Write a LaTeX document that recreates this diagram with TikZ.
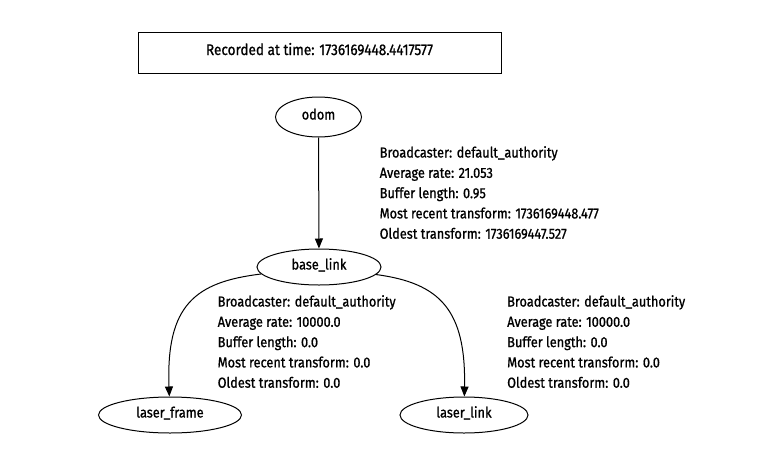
\documentclass[tikz,border=0pt]{standalone}
\usepackage{fontspec}
\setmainfont{Fira Sans}[FakeStretch=0.88, UprightFeatures={FakeBold=0.9}]
\usetikzlibrary{arrows.meta,shapes.geometric}
\begin{document}
\begin{tikzpicture}[x=1pt,y=-1pt]
\fontsize{10}{12}\selectfont
\pgfmathsetmacro\fsT{10*227/width("Recorded at time: 1736169448.4417577")}
\pgfmathsetmacro\fs{10*178/width("Broadcaster: default\_authority")}
\tikzset{
  every node/.style={font=\fontsize{\fs}{\fs}\selectfont},
  frame/.style={draw, ellipse, line width=1pt, inner sep=0pt, minimum height=36pt,
                text height=0.7em, text depth=0.2em},
  lbl/.style={anchor=base west, inner sep=0pt},
  edge/.style={line width=1pt, -{Triangle[length=10pt,width=8pt]}},
}
\fill[white] (0,0) rectangle (760,455);
\useasboundingbox (0,0) rectangle (760,455);

\node[draw, line width=1pt, minimum width=363pt, minimum height=41pt, inner sep=0pt,
      text height=0.7em, text depth=0.2em, font=\fontsize{\fsT}{\fsT}\selectfont]
      (title) at (319.5,52.5) {Recorded at time: 1736169448.4417577};

\node[frame, minimum width=86pt, minimum height=40pt] (odom) at (318.5,117) {odom};
\node[frame, minimum width=124pt] (bl) at (319,267) {base\_link};
\node[frame, minimum width=143pt] (lf) at (170,415) {laser\_frame};
\node[frame, minimum width=128pt] (ll) at (464,415) {laser\_link};

\draw[edge] (odom) -- (bl);
\draw[edge] (bl) .. controls (195,282) and (166,305) .. (lf);
\draw[edge] (bl) .. controls (440,283) and (466,310) .. (ll);

\node[lbl] (a1) at (379.5,157.5) {Broadcaster: default\_authority};
\node[lbl] (a2) at (379.5,177.8) {Average rate: 21.053};
\node[lbl] (a3) at (379.5,198.1) {Buffer length: 0.95};
\node[lbl] (a4) at (379.5,218.4) {Most recent transform: 1736169448.477};
\node[lbl] (a5) at (379.5,238.7) {Oldest transform: 1736169447.527};

\node[lbl] (b1) at (217.5,306.5) {Broadcaster: default\_authority};
\node[lbl] (b2) at (217.5,326.8) {Average rate: 10000.0};
\node[lbl] (b3) at (217.5,347.1) {Buffer length: 0.0};
\node[lbl] (b4) at (217.5,367.4) {Most recent transform: 0.0};
\node[lbl] (b5) at (217.5,387.7) {Oldest transform: 0.0};

\node[lbl] (c1) at (507,306.5) {Broadcaster: default\_authority};
\node[lbl] (c2) at (507,326.8) {Average rate: 10000.0};
\node[lbl] (c3) at (507,347.1) {Buffer length: 0.0};
\node[lbl] (c4) at (507,367.4) {Most recent transform: 0.0};
\node[lbl] (c5) at (507,387.7) {Oldest transform: 0.0};
\end{tikzpicture}
\end{document}
